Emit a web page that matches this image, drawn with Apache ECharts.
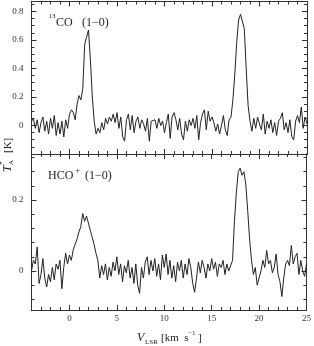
<!DOCTYPE html>
<html><head><meta charset="utf-8">
<script src="https://cdn.jsdelivr.net/npm/echarts@6/dist/echarts.min.js"></script>
<style>html,body{margin:0;padding:0;background:#fff}#c{width:314px;height:346px}</style>
</head><body><div id="c"></div>
<script>
const velocity = [
-4.0,-3.8,-3.6,-3.4,-3.2, -3.0,-2.8,-2.6,-2.4,-2.2, -2.0,-1.8,-1.6,-1.4,-1.2, -1.0,-0.8,-0.6,-0.4,-0.2,
0.0,0.2,0.4,0.6,0.8, 1.0,1.2,1.4,1.6,1.8, 2.0,2.2,2.4,2.6,2.8, 3.0,3.2,3.4,3.6,3.8,
4.0,4.2,4.4,4.6,4.8, 5.0,5.2,5.4,5.6,5.8, 6.0,6.2,6.4,6.6,6.8, 7.0,7.2,7.4,7.6,7.8,
8.0,8.2,8.4,8.6,8.8, 9.0,9.2,9.4,9.6,9.8, 10.0,10.2,10.4,10.6,10.8, 11.0,11.2,11.4,11.6,11.8,
12.0,12.2,12.4,12.6,12.8, 13.0,13.2,13.4,13.6,13.8, 14.0,14.2,14.4,14.6,14.8, 15.0,15.2,15.4,15.6,15.8,
16.0,16.2,16.4,16.6,16.8, 17.0,17.2,17.4,17.6,17.8, 18.0,18.2,18.4,18.6,18.8, 19.0,19.2,19.4,19.6,19.8,
20.0,20.2,20.4,20.6,20.8, 21.0,21.2,21.4,21.6,21.8, 22.0,22.2,22.4,22.6,22.8, 23.0,23.2,23.4,23.6,23.8,
24.0,24.2,24.4,24.6,24.8, 25.0
];
const co13 = [
0.03,0.05,-0.02,0.04,-0.05, 0.02,0.06,-0.04,0.03,-0.06, 0.05,-0.02,0.07,-0.07,0.02, -0.06,0.03,-0.08,0.04,-0.02,
0.08,0.11,0.09,0.04,0.15, 0.21,0.18,0.26,0.57,0.62, 0.67,0.46,0.20,0.03,-0.06, -0.02,-0.05,0.02,-0.03,0.05,
0.01,0.06,0.03,0.08,0.02, 0.09,-0.02,0.06,-0.08,-0.11, 0.04,0.08,-0.03,0.07,-0.05, 0.03,0.06,-0.02,0.04,0.01,
-0.04,0.05,-0.11,0.03,0.02, 0.04,-0.02,0.05,0.00,0.03, -0.05,0.02,0.08,-0.09,0.06, 0.09,0.04,-0.03,0.05,-0.06,
-0.10,0.03,-0.04,0.04,0.00, 0.05,-0.02,0.07,-0.10,0.02, 0.08,0.11,-0.03,0.10,0.03, 0.06,0.02,-0.04,0.01,-0.06,
0.00,0.07,-0.03,-0.07,0.04, 0.06,0.18,0.36,0.58,0.74, 0.78,0.77,0.68,0.40,0.14, 0.03,-0.04,0.05,-0.02,0.06,
0.01,-0.03,0.08,-0.06,0.03, -0.02,0.04,-0.05,0.02,-0.07, 0.03,0.05,0.09,-0.03,0.02, -0.05,0.04,-0.08,-0.10,0.03,
0.07,0.02,0.13,-0.02,0.06, 0.01
];
const hcop = [
0.00,0.03,0.02,0.068,-0.035, -0.01,0.035,-0.02,-0.045,-0.01, -0.03,0.01,-0.025,0.02,0.005, 0.03,-0.05,0.01,0.05,0.02,
0.045,0.03,0.06,0.075,0.09, 0.11,0.125,0.162,0.14,0.155, 0.15,0.115,0.095,0.075,0.05, 0.03,-0.02,0.015,-0.01,0.02,
-0.025,0.01,-0.015,0.025,0.00, 0.04,-0.01,0.02,-0.03,0.015, -0.005,0.03,-0.02,0.01,-0.035, 0.02,-0.04,-0.063,0.01,-0.02,
0.025,0.04,-0.01,0.03,0.00, 0.035,-0.015,0.02,-0.025,0.045, 0.01,0.048,-0.01,0.03,-0.02, 0.015,-0.03,0.025,0.00,0.03,
-0.02,0.02,-0.01,0.035,0.01, -0.035,-0.06,-0.02,0.025,-0.005, 0.03,0.01,-0.02,0.02,0.00, 0.035,0.005,0.025,-0.015,0.02,
0.01,0.03,-0.01,0.02,0.00, 0.005,0.03,0.14,0.22,0.28, 0.29,0.27,0.28,0.245,0.17, 0.09,0.03,-0.01,0.01,-0.04,
-0.035,0.00,0.03,0.01,0.058, 0.02,0.03,-0.005,0.01,0.048, -0.01,-0.03,-0.072,-0.02,0.02, 0.03,0.015,0.072,0.02,0.04,
0.05,-0.01,0.03,0.00,-0.015, 0.02
];
const xMajorTicks = [0, 5, 10, 15, 20, 25];
const yMajorTop = [-0.2, 0, 0.2, 0.4, 0.6, 0.8];
const yLabelsTop = [0, 0.2, 0.4, 0.6, 0.8];
const yMajorBottom = [0, 0.2];
const yMinorBottom = [-0.08, -0.04, 0.04, 0.08, 0.12, 0.16, 0.24, 0.28, 0.32];

const FONT = '"Liberation Serif", "DejaVu Serif", serif';
const AX = '#333';
const lineCol = {color: AX, width: 1};

function xAxes(g, showLabels) {
  const base = {gridIndex: g, type: 'value', min: -4, max: 25, splitLine: {show: false},
    axisLine: {show: true, onZero: false, lineStyle: lineCol}};
  return [
    Object.assign({}, base, {position: 'bottom',
      axisTick: {show: true, inside: true, length: 5, customValues: xMajorTicks, lineStyle: lineCol},
      axisLabel: {show: showLabels, customValues: xMajorTicks, margin: 4, color: '#333', fontSize: 9, fontFamily: FONT}}),
    Object.assign({}, base, {position: 'bottom', interval: 1,
      axisTick: {show: true, inside: true, length: 3, lineStyle: lineCol}, axisLabel: {show: false}}),
    Object.assign({}, base, {position: 'top',
      axisTick: {show: true, inside: true, length: 5, customValues: xMajorTicks, lineStyle: lineCol},
      axisLabel: {show: false, customValues: xMajorTicks}}),
    Object.assign({}, base, {position: 'top', interval: 1,
      axisTick: {show: true, inside: true, length: 3, lineStyle: lineCol}, axisLabel: {show: false}})
  ];
}
function yAxes(g, min, max, majors, labels, minorOpt) {
  const base = {gridIndex: g, type: 'value', min: min, max: max, splitLine: {show: false},
    axisLine: {show: true, onZero: false, lineStyle: lineCol}};
  const out = [];
  ['left', 'right'].forEach(function (pos) {
    out.push(Object.assign({}, base, {position: pos,
      axisTick: {show: true, inside: true, length: 5, customValues: majors, lineStyle: lineCol},
      axisLabel: {show: pos === 'left', customValues: labels, margin: 8, color: '#333', fontSize: 9, fontFamily: FONT,
        formatter: function (v) { return String(Math.round(v * 100) / 100); }}}));
    out.push(Object.assign({}, base, {position: pos},
      minorOpt,
      {axisTick: Object.assign({show: true, inside: true, length: 3, lineStyle: lineCol}, minorOpt.axisTick || {}),
       axisLabel: {show: false}}));
  });
  return out;
}

const chart = echarts.init(document.getElementById('c'), null, {renderer: 'canvas'});
const txt = (text, x, y, font, extra) => Object.assign({type: 'text', style: {text: text, x: x, y: y,
  font: font, fill: '#222', textAlign: 'left', textVerticalAlign: 'middle'}}, extra || {});

chart.setOption({
  animation: false,
  backgroundColor: '#fff',
  grid: [
    {left: 31.5, width: 275.5, top: 1.5, height: 152.5},
    {left: 31.5, width: 275.5, top: 154, height: 156}
  ],
  xAxis: xAxes(0, false).concat(xAxes(1, true)),
  yAxis: yAxes(0, -0.2, 0.87, yMajorTop, yLabelsTop, {interval: 0.05})
    .concat(yAxes(1, -0.11, 0.33, yMajorBottom, yMajorBottom, {axisTick: {customValues: yMinorBottom}})),
  series: [
    {type: 'line', xAxisIndex: 0, yAxisIndex: 0, showSymbol: false, symbol: 'none',
      lineStyle: {color: '#222', width: 1}, data: velocity.map((v, i) => [v, co13[i]])},
    {type: 'line', xAxisIndex: 4, yAxisIndex: 4, showSymbol: false, symbol: 'none',
      lineStyle: {color: '#222', width: 1}, data: velocity.map((v, i) => [v, hcop[i]])}
  ],
  graphic: [
    txt('13', 48.5, 16, '7px ' + FONT),
    txt('CO', 56, 23, '12px ' + FONT),
    txt('(1\u22120)', 82, 23, '12px ' + FONT),
    txt('HCO', 48, 176, '12px ' + FONT),
    txt('+', 75.5, 171, '8px ' + FONT),
    txt('(1\u22120)', 85, 176, '12px ' + FONT),
    txt('V', 137, 338, 'italic 12px ' + FONT),
    txt('LSR', 145, 342, '7px ' + FONT),
    txt('[km  s', 161, 338, '11px ' + FONT),
    txt('\u22121', 188, 333, '7px ' + FONT),
    txt(']', 198, 338, '11px ' + FONT),
    {type: 'group', x: 8, y: 172, rotation: Math.PI / 2, children: [
      txt('T', 0, 0, 'italic 12px ' + FONT),
      txt('A', 7, 3, '7px ' + FONT),
      txt('*', 7, -5, '8px ' + FONT),
      txt('[K]', 19, 0, '11px ' + FONT)
    ]}
  ]
});
</script></body></html>
